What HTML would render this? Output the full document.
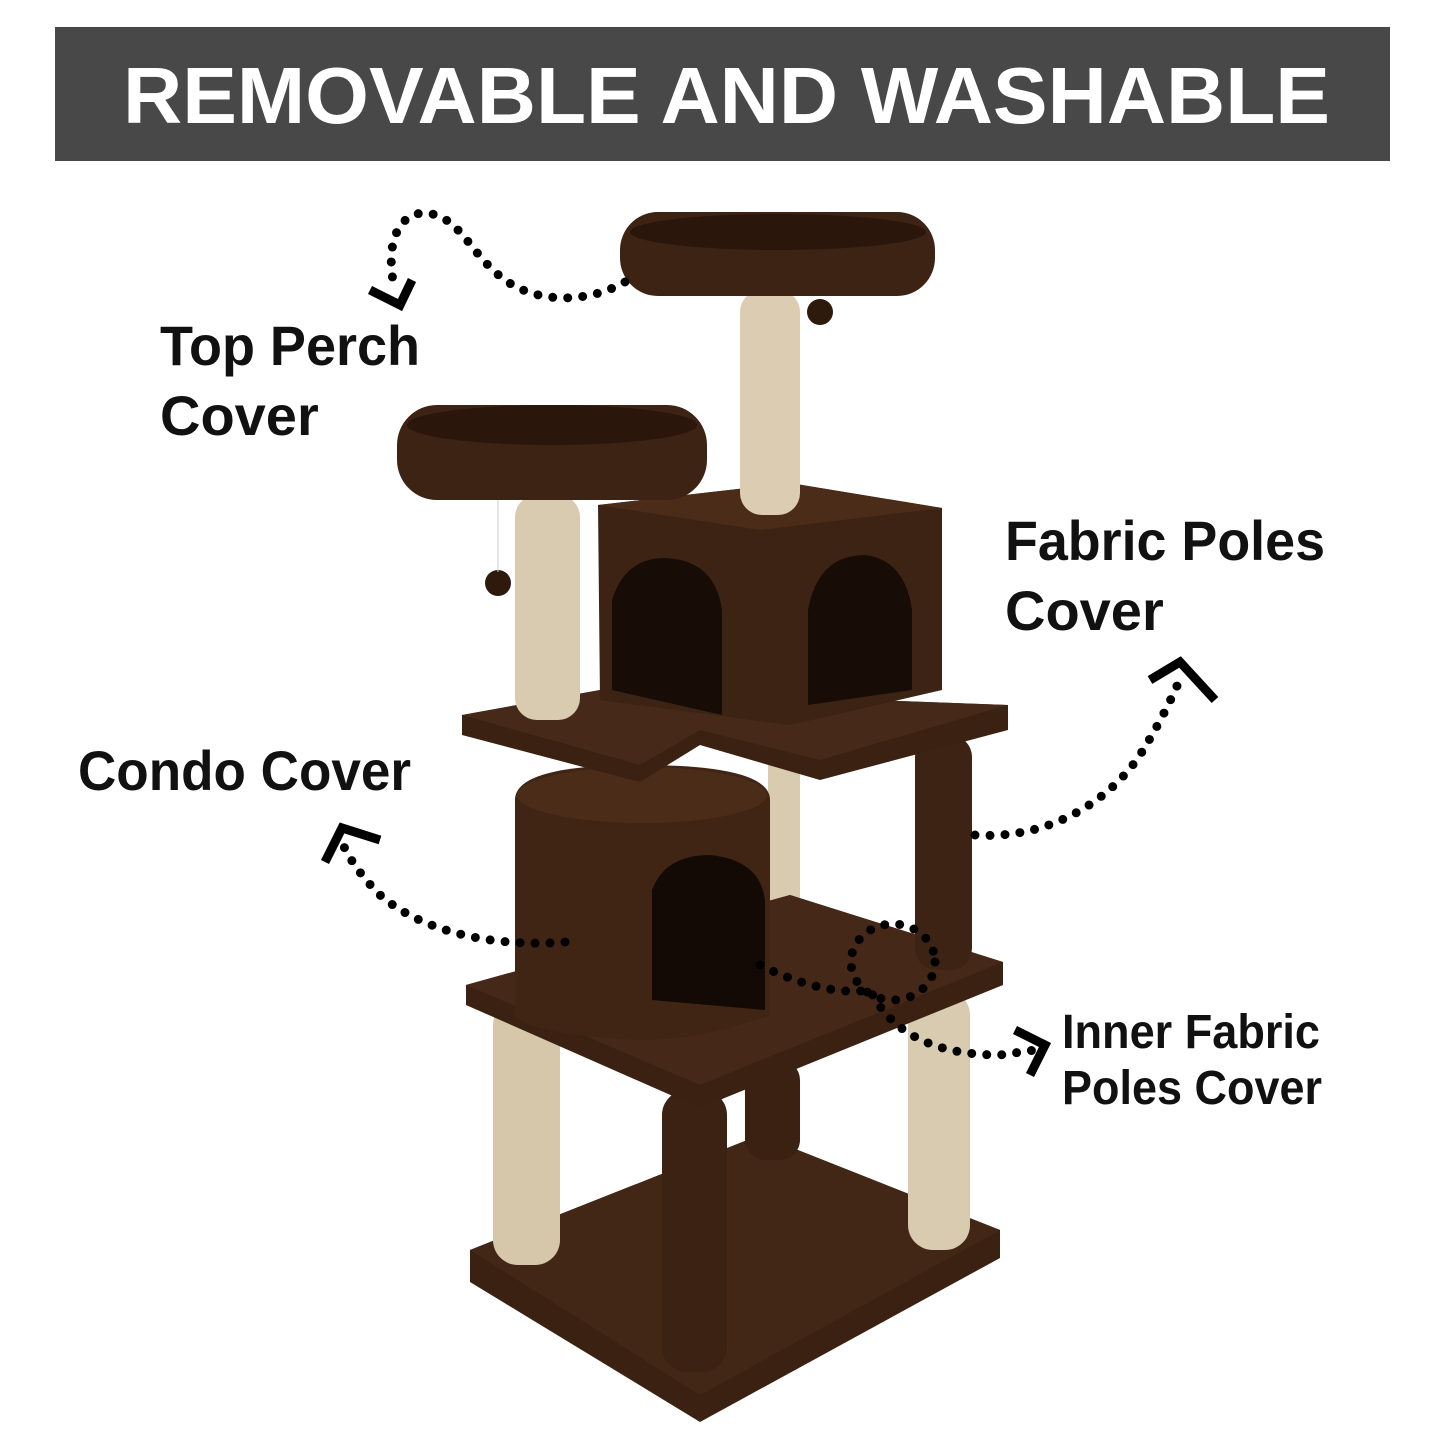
<!DOCTYPE html>
<html><head><meta charset="utf-8"><style>
html,body{margin:0;padding:0;background:#fff;}
svg{display:block;}
</style></head><body>
<svg width="1445" height="1445" viewBox="0 0 1445 1445" xmlns="http://www.w3.org/2000/svg">
<rect width="1445" height="1445" fill="#fff"/>
<rect x="55" y="27" width="1335" height="134" fill="#484848"/>
<text x="123" y="123" textLength="1207" lengthAdjust="spacingAndGlyphs" font-family="Liberation Sans, sans-serif" font-weight="bold" font-size="80" fill="#fff">REMOVABLE AND WASHABLE</text>

<g font-family="Liberation Sans, sans-serif" font-size="56" fill="#111" font-weight="600">
<text x="160" y="365" textLength="260" lengthAdjust="spacingAndGlyphs">Top Perch</text>
<text x="160" y="435">Cover</text>
<text x="1005" y="560" textLength="320" lengthAdjust="spacingAndGlyphs">Fabric Poles</text>
<text x="1005" y="630">Cover</text>
<text x="78" y="790" textLength="333" lengthAdjust="spacingAndGlyphs">Condo Cover</text>
<text x="1062" y="1048" font-size="48" textLength="258" lengthAdjust="spacingAndGlyphs">Inner Fabric</text>
<text x="1062" y="1104" font-size="48" textLength="260" lengthAdjust="spacingAndGlyphs">Poles Cover</text>
</g>

<g>
<polygon points="470,1250 760,1135 1000,1230 1000,1258 700,1422 470,1282" fill="#3a2112"/>
<polygon points="470,1250 760,1135 1000,1230 700,1395" fill="#432716"/>
<rect x="745" y="1060" width="55" height="100" rx="20" fill="#3a2112"/>
<rect x="768" y="760" width="32" height="150" fill="#d9cbb0"/>
<rect x="908" y="990" width="62" height="260" rx="25" fill="#d9cbb0"/>
<rect x="493" y="1000" width="67" height="265" rx="25" fill="#d6c7aa"/>
<rect x="662" y="1090" width="65" height="282" rx="25" fill="#3b2213"/>
<polygon points="466,985 790,895 1003,962 1003,985 700,1108 466,1005" fill="#3a2112"/>
<polygon points="466,985 790,895 1003,962 700,1085" fill="#452817"/>
<rect x="915" y="735" width="57" height="235" rx="22" fill="#3d2314"/>
<path d="M515,800 Q515,765 640,765 Q770,765 770,800 L770,1015 Q700,1040 640,1040 Q530,1035 515,1015 Z" fill="#402514"/>
<ellipse cx="642" cy="795" rx="125" ry="28" fill="#4a2c19"/>
<path d="M652,1000 L652,890 Q665,855 710,855 Q760,860 765,900 L765,1010 Z" fill="#140a05"/>
<polygon points="462,715 600,690 1008,705 1008,730 820,780 700,745 640,782 462,735" fill="#3a2112"/>
<polygon points="462,715 600,690 1008,705 820,760 700,730 640,765" fill="#462918"/>
<rect x="515" y="495" width="65" height="225" rx="22" fill="#d9cbb0"/>
<circle cx="498" cy="583" r="13" fill="#2e190d"/>
<line x1="498" y1="500" x2="498" y2="572" stroke="#ccc" stroke-width="1"/>
<polygon points="598,505 790,483 942,508 942,690 790,725 600,700" fill="#3d2314"/>
<polygon points="598,505 790,483 942,508 760,530" fill="#4a2c19"/>
<path d="M612,690 L612,600 Q625,558 665,558 Q715,560 722,610 L722,715 Z" fill="#180c06"/>
<path d="M808,705 L808,610 Q818,555 865,555 Q905,560 912,610 L912,690 Z" fill="#180c06"/>
<rect x="740" y="290" width="60" height="225" rx="22" fill="#dccdb2"/>
<circle cx="820" cy="312" r="13" fill="#2e190d"/>
<rect x="397" y="405" width="310" height="95" rx="40" fill="#3d2314"/>
<ellipse cx="552" cy="425" rx="145" ry="20" fill="#2a160b"/>
<rect x="620" y="212" width="315" height="84" rx="38" fill="#3d2314"/>
<ellipse cx="778" cy="232" rx="148" ry="18" fill="#2a160b"/>
</g>

<g fill="none" stroke="#000" stroke-width="9" stroke-linecap="round" stroke-dasharray="0 15">
<path d="M625,282 C590,302 540,305 505,280 C470,255 460,215 425,213 C395,213 385,250 395,290"/>
<path d="M975,835 C1050,840 1110,800 1140,755 C1165,715 1175,690 1182,675"/>
<path d="M565,942 C490,948 420,930 380,895 C355,870 345,850 340,838"/>
<path d="M760,965 C800,985 840,995 870,990 C890,1030 930,1055 1000,1055 L1035,1050"/>
<ellipse cx="893" cy="962" rx="42" ry="38"/>
</g>
<g fill="none" stroke="#000" stroke-width="9">
<polyline points="370,290 400,305 412,280"/>
<polyline points="1150,680 1180,662 1215,700"/>
<polyline points="325,862 342,828 380,840"/>
<polyline points="1015,1030 1045,1045 1030,1075"/>
</g>
</svg>
</body></html>
